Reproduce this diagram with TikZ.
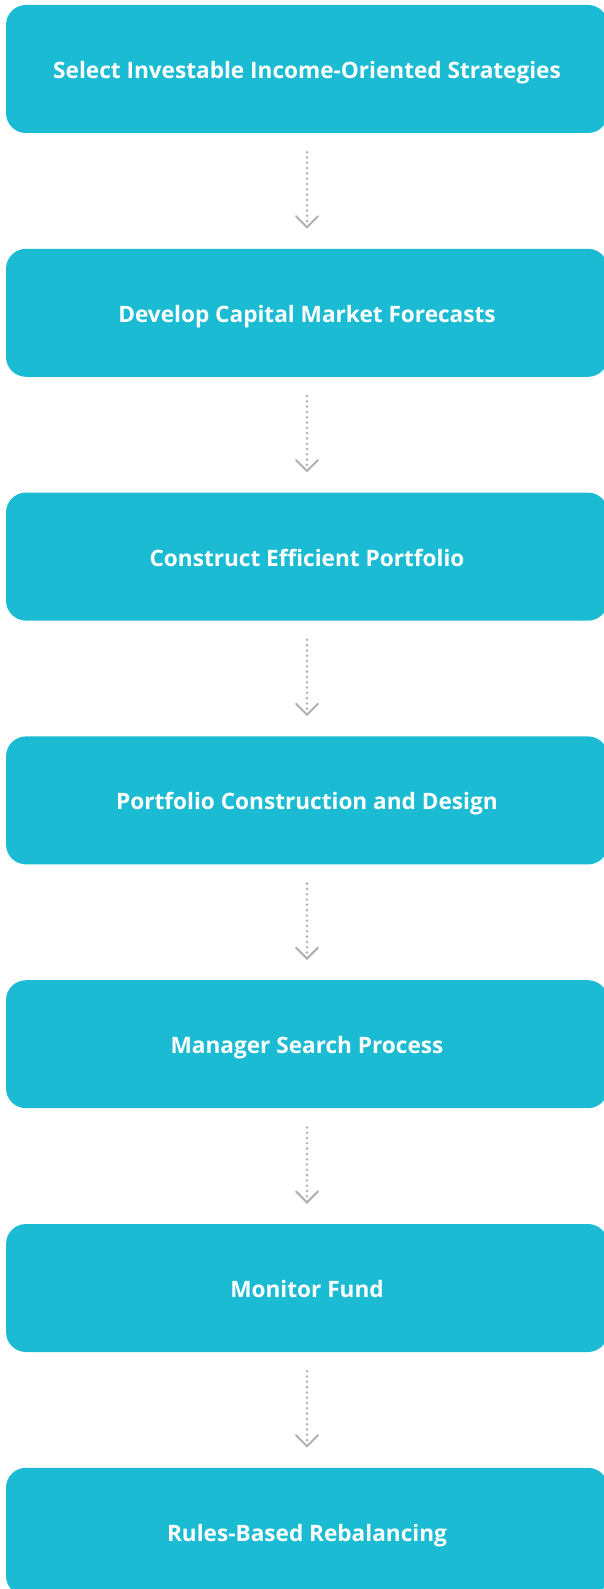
\documentclass[tikz,border=0pt]{standalone}
\usepackage{fontspec}
\setmainfont{Open Sans}
\usetikzlibrary{arrows.meta, positioning}
\definecolor{stagecyan}{HTML}{1BBCD3}
\definecolor{flowgrey}{HTML}{B0B0B0}

\begin{document}
\begin{tikzpicture}[x=1pt,y=-1pt]
      \tikzset{stage/.style={fill=stagecyan,
          rounded corners=20pt,
          minimum width=602pt,
          minimum height=128pt,
          inner sep=0pt,
          text height=19pt, text depth=0pt,
          text=white,
          font=\fontsize{22.6}{27}\selectfont\bfseries},
        flow/.style={flowgrey, line width=2.8pt,
          dash pattern=on 0pt off 5.3pt, line cap=round,
          shorten <=19pt, shorten >=20pt,
          -{Straight Barb[length=11pt, width=22pt, line width=2pt, line cap=round]}}
      }
      \useasboundingbox (0,0) rectangle (604,1589);
      \clip (0,0) rectangle (604,1589);
      \node [stage] (select) at (307,69) {Select Investable Income-Oriented Strategies};
      \node [stage] (forecast) at (307,312.8) {Develop Capital Market Forecasts};
      \node [stage] (efficient) at (307,556.6) {Construct Efficient Portfolio};
      \node [stage] (design) at (307,800.4) {Portfolio Construction and Design};
      \node [stage] (search) at (307,1044.2) {Manager Search Process};
      \node [stage] (monitor) at (307,1288) {Monitor Fund};
      \node [stage] (rebalance) at (307,1531.8) {Rules-Based Rebalancing};

      \draw [flow] (select) -- (forecast);
      \draw [flow] (forecast) -- (efficient);
      \draw [flow] (efficient) -- (design);
      \draw [flow] (design) -- (search);
      \draw [flow] (search) -- (monitor);
      \draw [flow] (monitor) -- (rebalance);
\end{tikzpicture}
\end{document}
